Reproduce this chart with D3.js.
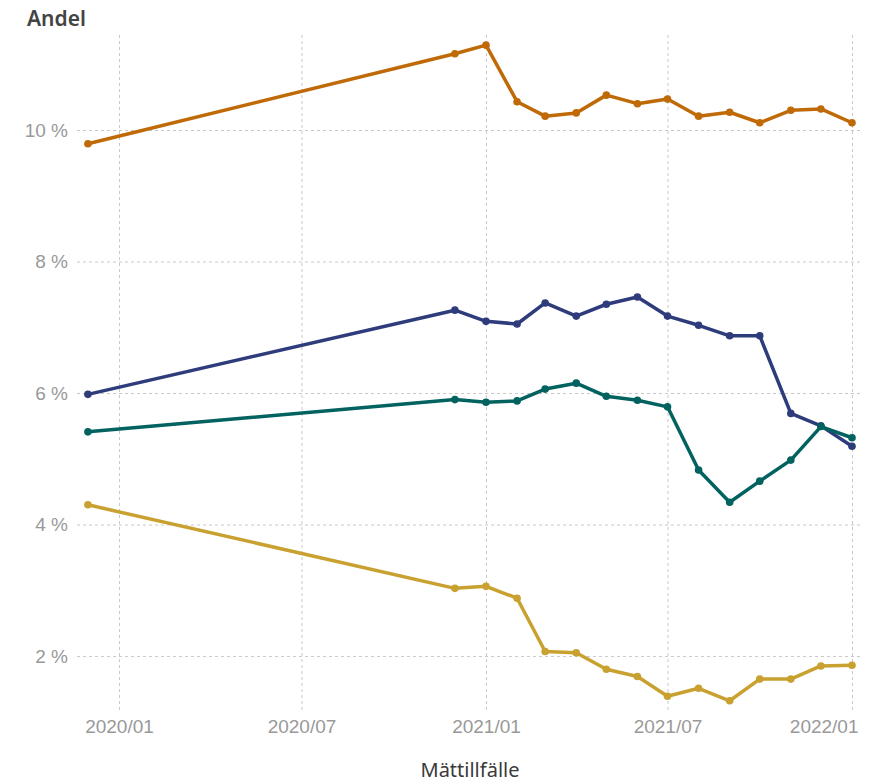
<!DOCTYPE html>
<html>
<head>
<meta charset="utf-8">
<script src="https://cdn.jsdelivr.net/npm/d3@7"></script>
<style>
  body { margin: 0; background: #fff; }
  svg { font-family: "Noto Sans", "Open Sans", sans-serif; }
</style>
</head>
<body>
<div id="chart"></div>
<script>
const dates = ["2019-12-01", "2020-12-01", "2021-01-01", "2021-02-01", "2021-03-01", "2021-04-01",
    "2021-05-01", "2021-06-01", "2021-07-01", "2021-08-01", "2021-09-01", "2021-10-01",
    "2021-11-01", "2021-12-01", "2022-01-01"];

const orangeValues = [9.79, 11.16, 11.29, 10.43, 10.21, 10.26, 10.53, 10.40, 10.47, 10.21, 10.27, 10.11, 10.30, 10.32, 10.11];
const blueValues = [5.98, 7.26, 7.09, 7.05, 7.37, 7.17, 7.35, 7.46, 7.17, 7.03, 6.87, 6.87, 5.69, 5.50, 5.19];
const tealValues = [5.41, 5.90, 5.86, 5.88, 6.06, 6.15, 5.95, 5.89, 5.79, 4.83, 4.34, 4.66, 4.98, 5.49, 5.32];
const goldValues = [4.30, 3.03, 3.06, 2.88, 2.07, 2.05, 1.80, 1.69, 1.39, 1.51, 1.32, 1.65, 1.65, 1.85, 1.86];

const yTicks = [2, 4, 6, 8, 10];
const xTicks = ["2020-01-01", "2020-07-01", "2021-01-01", "2021-07-01", "2022-01-01"];

const series = [
    { values: orangeValues, color: "#bf6a07" },
    { values: blueValues, color: "#2f3c7c" },
    { values: tealValues, color: "#01625f" },
    { values: goldValues, color: "#c9a130" }
];

const width = 877;
const height = 783;
const plot = { left: 77, right: 862, top: 32, bottom: 710 };

const parse = d3.timeParse("%Y-%m-%d");

const svg = d3.select("#chart")
    .append("svg")
    .attr("width", width)
    .attr("height", height);

const x = d3.scaleTime()
    .domain([parse("2020-01-01"), parse("2022-01-01")])
    .range([119, 852]);

const y = d3.scaleLinear()
    .domain([1.18, 11.49])
    .range([plot.bottom, plot.top]);

// horizontal grid + y labels
const yAxis = d3.axisLeft(y)
    .tickValues(yTicks)
    .tickSize(-(plot.right - plot.left))
    .tickPadding(9)
    .tickFormat(d => d + " %");

svg.append("g")
    .attr("transform", `translate(${plot.left},0)`)
    .call(yAxis)
    .call(g => g.select(".domain").remove())
    .call(g => g.selectAll(".tick line")
        .attr("stroke", "#c8c8c8")
        .attr("stroke-dasharray", "3,3"))
    .call(g => g.selectAll(".tick text")
        .attr("fill", "#999")
        .attr("font-size", 19));

// vertical grid + x labels
const xAxis = d3.axisBottom(x)
    .tickValues(xTicks.map(parse))
    .tickSize(-(plot.bottom - plot.top))
    .tickPadding(10)
    .tickFormat(d3.timeFormat("%Y/%m"));

svg.append("g")
    .attr("transform", `translate(0,${plot.bottom})`)
    .call(xAxis)
    .call(g => g.select(".domain").remove())
    .call(g => g.selectAll(".tick line")
        .attr("stroke", "#c8c8c8")
        .attr("stroke-dasharray", "3,3"))
    .call(g => g.selectAll(".tick text")
        .attr("fill", "#999")
        .attr("font-size", 19))
    // last label is pulled in so it stays inside the visual
    .call(g => g.selectAll(".tick text")
        .filter((d, i, n) => i === n.length - 1)
        .attr("text-anchor", "end")
        .attr("x", 6));

const line = d3.line()
    .x((d, i) => x(parse(dates[i])))
    .y(d => y(d));

series.forEach(s => {
    svg.append("path")
        .datum(s.values)
        .attr("fill", "none")
        .attr("stroke", s.color)
        .attr("stroke-width", 3.5)
        .attr("stroke-linejoin", "round")
        .attr("d", line);

    svg.append("g")
        .selectAll("circle")
        .data(s.values)
        .join("circle")
        .attr("cx", (d, i) => x(parse(dates[i])))
        .attr("cy", d => y(d))
        .attr("r", 3.8)
        .attr("fill", s.color);
});

svg.append("text")
    .attr("x", 27)
    .attr("y", 26)
    .attr("fill", "#444")
    .attr("font-size", 21)
    .attr("font-weight", 600)
    .text("Andel");

svg.append("text")
    .attr("x", 470)
    .attr("y", 777)
    .attr("text-anchor", "middle")
    .attr("fill", "#3a3a3a")
    .attr("font-size", 20)
    .text("Mättillfälle");
</script>
</body>
</html>
